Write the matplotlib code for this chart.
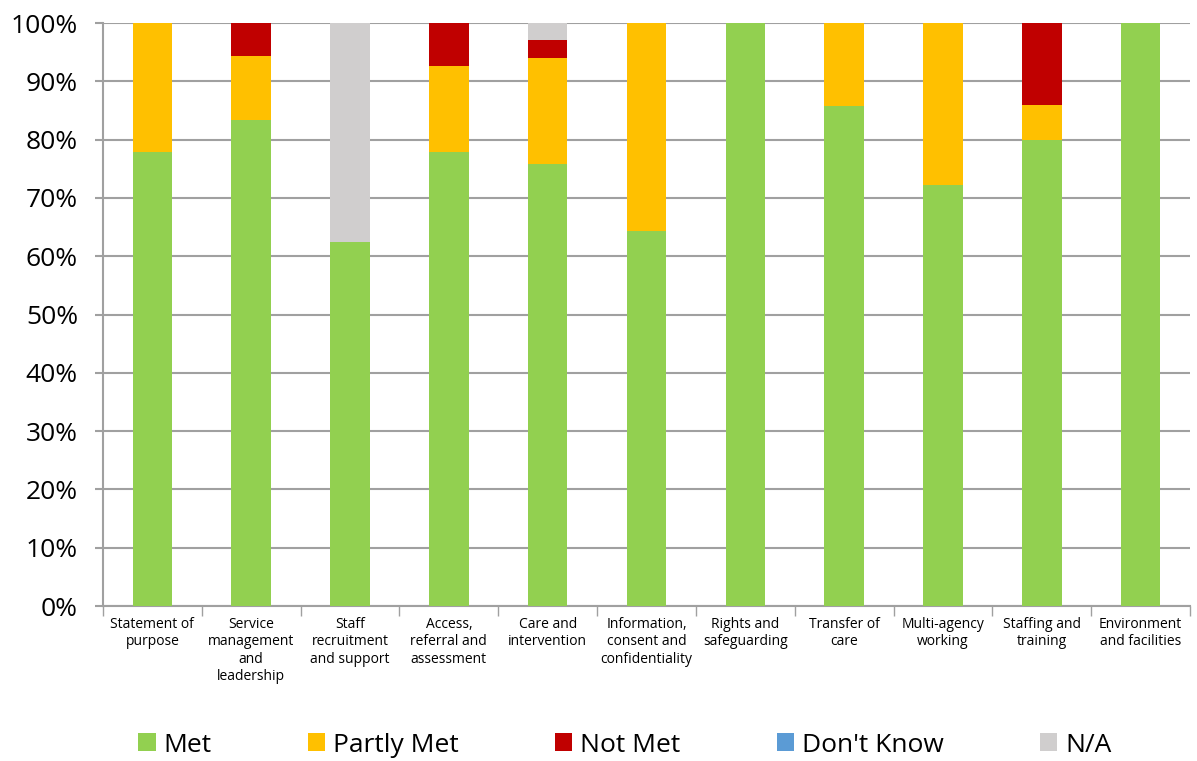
import matplotlib
matplotlib.use("Agg")
import matplotlib.pyplot as plt
import numpy as np
from matplotlib.ticker import FixedLocator, PercentFormatter

categories = ["Statement of\npurpose", "Service\nmanagement\nand\nleadership",
              "Staff\nrecruitment\nand support", "Access,\nreferral and\nassessment",
              "Care and\nintervention", "Information,\nconsent and\nconfidentiality",
              "Rights and\nsafeguarding", "Transfer of\ncare", "Multi-agency\nworking",
              "Staffing and\ntraining", "Environment\nand facilities"]
met =        [77.8, 83.3, 62.5, 77.8, 75.8, 64.3, 100, 85.7, 72.2, 80, 100]
partly_met = [22.2, 11.1, 0,    14.8, 18.2, 35.7, 0,   14.3, 27.8, 6,  0]
not_met =    [0,    5.6,  0,    7.4,  3.0,  0,    0,   0,    0,    14, 0]
dont_know =  [0,    0,    0,    0,    0,    0,    0,   0,    0,    0,  0]
na =         [0,    0,    37.5, 0,    3.0,  0,    0,   0,    0,    0,  0]

series = [("Met", met, "#92D050"), ("Partly Met", partly_met, "#FFC000"),
          ("Not Met", not_met, "#C00000"), ("Don't Know", dont_know, "#5B9BD5"),
          ("N/A", na, "#D0CECE")]

plt.rcParams['font.family'] = ['Open Sans', 'DejaVu Sans']

fig = plt.figure(figsize=(11.97, 7.61), dpi=100)
ax = fig.add_axes([103/1197, 1-606/761, (1190-103)/1197, (606-23)/761])

x = np.arange(len(categories))
bottom = np.zeros(len(categories))
for name, vals, col in series:
    v = np.array(vals, dtype=float)
    ax.bar(x, v, 0.4, bottom=bottom, color=col, label=name, zorder=3)
    bottom += v

ax.set_xlim(-0.5, len(categories) - 0.5)
ax.set_ylim(0, 100)
ax.yaxis.set_major_locator(FixedLocator(np.arange(0, 101, 10)))
ax.yaxis.set_major_formatter(PercentFormatter(decimals=0))
ax.grid(axis='y', color='#A0A0A0', linewidth=1.5, zorder=0)
ax.set_xticks(x)
ax.set_xticklabels(categories, fontsize=10, linespacing=1.2)
ax.xaxis.set_minor_locator(FixedLocator(np.arange(-0.5, len(categories), 1)))
ax.tick_params(axis='x', which='major', length=0, pad=8)
ax.tick_params(axis='x', which='minor', length=7, color='#A0A0A0', width=1)
ax.tick_params(axis='y', length=6, color='#A0A0A0', width=1.5, labelsize=19, pad=12)
for s in ['top', 'right']:
    ax.spines[s].set_visible(False)
for s in ['left', 'bottom']:
    ax.spines[s].set_color('#A0A0A0')
    ax.spines[s].set_linewidth(1.5)

handles, labels = ax.get_legend_handles_labels()
fig.legend(handles, labels, loc='center', bbox_to_anchor=(0.522, 1-745/761), ncol=5,
           frameon=False, fontsize=19, handlelength=0.65, handleheight=0.65,
           handletextpad=0.3, columnspacing=3.65)

fig.savefig("out.png", dpi=100)
